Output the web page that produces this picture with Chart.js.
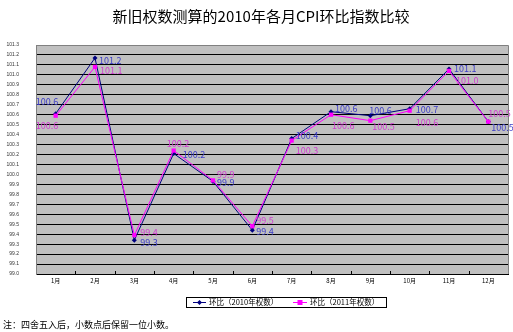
<!DOCTYPE html>
<html>
<head>
<meta charset="utf-8">
<script src="https://cdn.jsdelivr.net/npm/chart.js@4.4.0/dist/chart.umd.min.js"></script>
<style>
html,body{margin:0;padding:0;background:#fff;}
canvas{display:block;}
</style>
</head>
<body>
<canvas id="c" width="513" height="332"></canvas>
<script>
// ---- data ----
const titleText = '新旧权数测算的2010年各月CPI环比指数比较';
const noteText = '注：四舍五入后，小数点后保留一位小数。';
const categories = ['1月','2月','3月','4月','5月','6月','7月','8月','9月','10月','11月','12月'];
const seriesNames = ['环比（2010年权数）','环比（2011年权数）'];
const cpi2010 = [100.61, 101.17, 99.34, 100.21, 99.93, 99.44, 100.36, 100.63, 100.59, 100.66, 101.06, 100.53];
const cpi2011 = [100.59, 101.08, 99.39, 100.24, 99.94, 99.48, 100.34, 100.60, 100.54, 100.64, 101.04, 100.53];
const yTicks = [99.0,99.1,99.2,99.3,99.4,99.5,99.6,99.7,99.8,99.9,100.0,100.1,100.2,100.3,100.4,100.5,100.6,100.7,100.8,100.9,101.0,101.1,101.2,101.3];

// ---- label placement (style: offset of label from its point) ----
const labelOffsets = [
  [[-20,-12],[4,3],[6,2],[9,1],[4,1],[4,1],[4,-3],[4,-3],[-1,-5],[6,1],[5,0],[3,6]],
  [[-20,10],[5,4],[6,-3],[-7,-7],[4,-6],[4,-6],[4,10],[1,11],[2,6],[6,12],[7,10],[0,-8]]
];
const labelColors = ['#3c3cc8','#d23cd2'];

const CJK = '"Noto Sans CJK SC", "Noto Sans", sans-serif';

const decorPlugin = {
  id: 'decor',
  beforeDraw(chart) {
    const {ctx, chartArea: a} = chart;
    ctx.save();
    ctx.fillStyle = '#fff';
    ctx.fillRect(0, 0, chart.width, chart.height);
    ctx.fillStyle = '#c0c0c0';
    ctx.fillRect(a.left, a.top, a.right - a.left, a.bottom - a.top);
    ctx.restore();
  },
  afterDatasetsDraw(chart) {
    const ctx = chart.ctx;
    ctx.save();
    ctx.font = '9px ' + CJK;
    ctx.textAlign = 'left';
    ctx.textBaseline = 'middle';
    chart.data.datasets.forEach((ds, i) => {
      const meta = chart.getDatasetMeta(i);
      ctx.fillStyle = labelColors[i];
      meta.data.forEach((pt, j) => {
        const off = labelOffsets[i][j];
        ctx.fillText(ds.data[j].toFixed(1), pt.x + off[0], pt.y + off[1]);
      });
    });
    ctx.restore();
  },
  afterDraw(chart) {
    const {ctx, chartArea: a} = chart;
    const xs = chart.scales.x;
    ctx.save();
    // plot border (top / right)
    ctx.strokeStyle = '#808080';
    ctx.lineWidth = 1;
    ctx.beginPath();
    ctx.moveTo(a.left, a.top + 0.5);
    ctx.lineTo(a.right + 0.5, a.top + 0.5);
    ctx.lineTo(a.right + 0.5, a.bottom);
    ctx.stroke();
    // category tick marks on bottom edge
    ctx.strokeStyle = '#000';
    ctx.beginPath();
    for (let i = 1; i < categories.length; i++) {
      const x = Math.round((xs.getPixelForValue(i - 1) + xs.getPixelForValue(i)) / 2) + 0.5;
      ctx.moveTo(x, a.bottom - 3);
      ctx.lineTo(x, a.bottom);
    }
    ctx.stroke();

    // title
    ctx.fillStyle = '#000';
    ctx.font = '15px ' + CJK;
    ctx.textAlign = 'center';
    ctx.textBaseline = 'middle';
    ctx.fillText(titleText, 261, 16);

    // legend
    const lx = 186, ly = 297, lw = 200, lh = 10;
    ctx.fillStyle = '#fff';
    ctx.fillRect(lx, ly, lw, lh);
    ctx.strokeStyle = '#000';
    ctx.strokeRect(lx + 0.5, ly + 0.5, lw, lh);
    const cy = ly + 5.5;
    const items = [
      {x0: 193, x1: 206, tx: 209},
      {x0: 293, x1: 307, tx: 310}
    ];
    chart.data.datasets.forEach((ds, i) => {
      const it = items[i];
      ctx.strokeStyle = ds.borderColor;
      ctx.lineWidth = 1;
      ctx.beginPath();
      ctx.moveTo(it.x0, cy);
      ctx.lineTo(it.x1, cy);
      ctx.stroke();
      const mx = (it.x0 + it.x1) / 2;
      ctx.fillStyle = ds.pointBackgroundColor;
      ctx.beginPath();
      if (ds.pointStyle === 'rectRot') {
        ctx.moveTo(mx, cy - 2.5); ctx.lineTo(mx + 2.5, cy); ctx.lineTo(mx, cy + 2.5); ctx.lineTo(mx - 2.5, cy);
        ctx.closePath();
      } else {
        ctx.rect(mx - 2.5, cy - 2.5, 5, 5);
      }
      ctx.fill();
      ctx.fillStyle = '#000';
      ctx.font = '7.5px ' + CJK;
      ctx.textAlign = 'left';
      ctx.textBaseline = 'middle';
      ctx.fillText(ds.label, it.tx, cy);
    });

    // footnote
    ctx.font = '9px ' + CJK;
    ctx.fillStyle = '#000';
    ctx.textAlign = 'left';
    ctx.fillText(noteText, 3, 325);
    ctx.restore();
  }
};

new Chart(document.getElementById('c'), {
  type: 'line',
  data: {
    labels: categories,
    datasets: [
      {
        label: seriesNames[0],
        data: cpi2010,
        borderColor: '#000080',
        backgroundColor: '#000080',
        pointBackgroundColor: '#000080',
        pointBorderColor: '#000080',
        pointStyle: 'rectRot',
        pointRadius: 2.5,
        pointBorderWidth: 0,
        borderWidth: 1,
        tension: 0,
        order: 2
      },
      {
        label: seriesNames[1],
        data: cpi2011,
        borderColor: '#ff00ff',
        backgroundColor: '#ff00ff',
        pointBackgroundColor: '#ff00ff',
        pointBorderColor: '#ff00ff',
        pointStyle: 'rect',
        pointRadius: 3,
        pointBorderWidth: 0,
        borderWidth: 1,
        tension: 0,
        order: 1
      }
    ]
  },
  options: {
    responsive: false,
    animation: false,
    layout: {padding: {top: 45, right: 5, bottom: 46, left: 0}},
    plugins: {
      legend: {display: false},
      title: {display: false},
      tooltip: {enabled: false}
    },
    scales: {
      x: {
        type: 'category',
        offset: true,
        grid: {display: false, drawTicks: false},
        border: {display: true, color: '#000', width: 1},
        ticks: {
          font: {family: CJK, size: 6},
          color: '#000',
          padding: 3,
          maxRotation: 0,
          autoSkip: false
        },
        afterFit(s) { s.height = 12; }
      },
      y: {
        min: 99.0,
        max: 101.3,
        afterBuildTicks(s) { s.ticks = yTicks.map(v => ({value: v})); },
        grid: {
          color: (c) => (c.index === yTicks.length - 1 ? '#808080' : '#000'),
          lineWidth: 1,
          drawTicks: false
        },
        border: {display: true, color: '#808080', width: 1},
        ticks: {
          font: {family: '"Liberation Sans", sans-serif', size: 5},
          color: '#333',
          padding: 17,
          callback: (v) => Number(v).toFixed(1)
        },
        afterFit(s) { s.width = 36; }
      }
    }
  },
  plugins: [decorPlugin]
});
</script>
</body>
</html>
